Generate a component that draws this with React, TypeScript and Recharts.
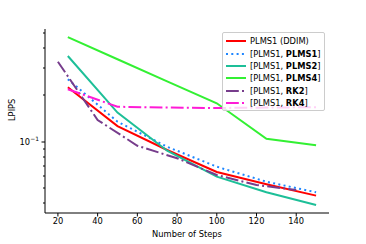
import { LineChart, Line, XAxis, YAxis } from "recharts";

// step counts
const steps = [25, 50, 75, 100, 125, 150];
const stepsRk2 = [20, 40, 60, 80, 100, 120, 140];

// LPIPS values
const ddim = [0.2245, 0.126, 0.0884, 0.0638, 0.0531, 0.0449];
const plms1 = [0.253, 0.1346, 0.0928, 0.069, 0.0552, 0.0472];
const plms2 = [0.357, 0.154, 0.0875, 0.0595, 0.0472, 0.0391];
const plms4 = [0.472, 0.34, 0.245, 0.177, 0.1045, 0.0948];
const rk2 = [0.328, 0.138, 0.0942, 0.0782, 0.061, 0.0526, 0.0488];
const rk4 = [0.218, 0.168, 0.166, 0.165, 0.166, 0.167];

const xTicks = [20, 40, 60, 80, 100, 120, 140];
const yTicks = [0.04, 0.05, 0.06, 0.07, 0.08, 0.09, 0.1, 0.2, 0.3, 0.4, 0.5];

const FONT = "DejaVu Sans, sans-serif";

const toRows = (xs: number[], ys: number[]) => xs.map((x, i) => ({ x, y: ys[i] }));

const SERIES = [
  { key: "ddim", data: toRows(steps, ddim), color: "#ff0000", dash: undefined, label: ["PLMS1 (DDIM)", ""] },
  { key: "plms1", data: toRows(steps, plms1), color: "#1e86ff", dash: "2 3.3", label: ["[PLMS1, ", "PLMS1"] },
  { key: "plms2", data: toRows(steps, plms2), color: "#1dbf98", dash: undefined, label: ["[PLMS1, ", "PLMS2"] },
  { key: "plms4", data: toRows(steps, plms4), color: "#33f033", dash: undefined, label: ["[PLMS1, ", "PLMS4"] },
  { key: "rk2", data: toRows(stepsRk2, rk2), color: "#773d8c", dash: "12.8 3.2 2 3.2", label: ["[PLMS1, ", "RK2"] },
  { key: "rk4", data: toRows(steps, rk4), color: "#ff1ad6", dash: "12.8 3.2 2 3.2", label: ["[PLMS1, ", "RK4"] },
];

// 0.1 is the only labelled (major) tick, the rest are short minor ticks
const YTick = (props: any) => {
  const { x, y, payload } = props;
  const major = Math.abs(payload.value - 0.1) < 1e-9;
  const len = major ? 3.5 : 2;
  return (
    <g>
      <rect x={x - len} y={Math.round(y) - 0.5} width={len} height={1} fill="#000" />
      {major && (
        <text x={x - 6} y={y + 3} textAnchor="end" fontSize={8.3} fontFamily={FONT} fill="#000">
          10<tspan dy={-4} fontSize={6}>−1</tspan>
        </text>
      )}
    </g>
  );
};

const LegendBox = () => (
  <div
    style={{
      position: "absolute",
      left: 222,
      top: 32,
      background: "rgba(255,255,255,0.8)",
      border: "1px solid #cccccc",
      borderRadius: 2,
      padding: "2px 4px 1px 3px",
      fontFamily: FONT,
      fontSize: 8.3,
      color: "#000",
    }}
  >
    {SERIES.map((s) => (
      <div key={s.key} style={{ display: "flex", alignItems: "center", height: 12.4 }}>
        <svg width={20} height={6} style={{ marginRight: 4 }}>
          <line x1={0} x2={20} y1={3} y2={3} stroke={s.color} strokeWidth={2} strokeDasharray={s.dash} />
        </svg>
        <span style={{ whiteSpace: "nowrap" }}>
          {s.label[0]}
          {s.label[1] && (
            <>
              <b>{s.label[1]}</b>]
            </>
          )}
        </span>
      </div>
    ))}
  </div>
);

export default function App() {
  return (
    <div style={{ position: "absolute", left: 0, top: 0, width: 366, height: 244, background: "#fff" }}>
      <LineChart width={366} height={244} margin={{ top: 29, right: 37, bottom: 0, left: 0 }}>
        <XAxis
          xAxisId="b"
          dataKey="x"
          type="number"
          domain={[13.5, 156.5]}
          ticks={xTicks}
          allowDataOverflow
          height={31}
          tickSize={3.5}
          tickMargin={1.5}
          stroke="#000"
          tick={{ fontSize: 8.3, fontFamily: FONT, fill: "#000" }}
          label={{ value: "Number of Steps", position: "insideBottom", offset: 7, fontSize: 8.3, fontFamily: FONT, fill: "#000" }}
        />
        <XAxis xAxisId="t" orientation="top" type="number" domain={[13.5, 156.5]} height={0} tick={false} tickLine={false} stroke="#000" />
        <YAxis
          yAxisId="l"
          type="number"
          scale="log"
          domain={[0.0347, 0.533]}
          ticks={yTicks}
          allowDataOverflow
          width={45}
          tickSize={0}
          tickMargin={0}
          tickLine={false}
          stroke="#000"
          tick={<YTick />}
          interval={0}
          label={{ value: "LPIPS", angle: -90, position: "insideLeft", offset: 12, fontSize: 8.3, fontFamily: FONT, fill: "#000" }}
        />
        <YAxis yAxisId="r" orientation="right" type="number" scale="log" domain={[0.0347, 0.533]} width={0} tick={false} tickLine={false} stroke="#000" />
        {SERIES.map((s) => (
          <Line
            key={s.key}
            xAxisId="b"
            yAxisId="l"
            data={s.data}
            dataKey="y"
            stroke={s.color}
            strokeWidth={2}
            strokeDasharray={s.dash}
            dot={false}
            activeDot={false}
            isAnimationActive={false}
          />
        ))}
      </LineChart>
      <LegendBox />
    </div>
  );
}
